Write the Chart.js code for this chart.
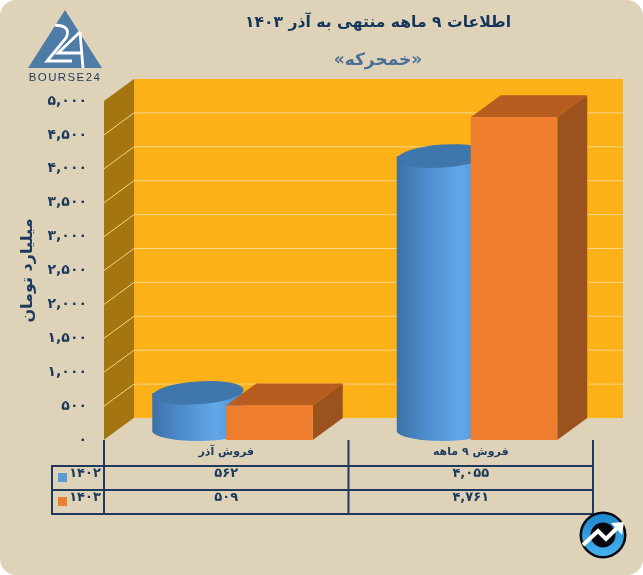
<!DOCTYPE html>
<html lang="fa">
<head>
<meta charset="utf-8">
<title>خمحرکه</title>
<script src="https://cdn.jsdelivr.net/npm/chart.js@4"></script>
<style>
html, body { margin: 0; padding: 0; background: #fff; }
#frame { position: absolute; left: 0; top: 0; width: 643px; height: 575px; background: #ded3b9; border-radius: 16px; overflow: hidden; }
canvas { display: block; }
</style>
</head>
<body>
<div id="frame"><canvas id="chart" width="643" height="575"></canvas></div>
<script>
// داده‌ها
const categories = ['فروش آذر', 'فروش ۹ ماهه'];
const seriesNames = ['۱۴۰۲', '۱۴۰۳'];
const values1402 = [562, 4055];
const values1403 = [509, 4761];
const titleText = 'اطلاعات ۹ ماهه منتهی به آذر ۱۴۰۳';
const subtitleText = '«خمحرکه»';
const axisTitle = 'میلیارد تومان';

const FONT = '"DejaVu Sans", sans-serif';
const NAVY = '#1b3a5e';
const DX = 30, DY = 22; // عمق سه بعدی

function faNum(n) {
    return n.toLocaleString('en-US').replace(/\d/g, d => '۰۱۲۳۴۵۶۷۸۹'[d]);
}

function poly(ctx, pts, color) {
    ctx.beginPath();
    pts.forEach((p, i) => i ? ctx.lineTo(p[0], p[1]) : ctx.moveTo(p[0], p[1]));
    ctx.closePath();
    ctx.fillStyle = color;
    ctx.fill();
}

// دیوارها و خطوط شبکه
function drawWalls(chart) {
    const { ctx, chartArea: a, scales } = chart;
    const y0 = a.bottom, yt = a.top;
    poly(ctx, [[a.left + DX, yt - DY], [a.right + DX, yt - DY], [a.right + DX, y0 - DY], [a.left + DX, y0 - DY]], '#fbb117');
    poly(ctx, [[a.left, yt], [a.left + DX, yt - DY], [a.left + DX, y0 - DY], [a.left, y0]], '#a5750f');
    poly(ctx, [[a.left, y0], [a.left + DX, y0 - DY], [a.right + DX, y0 - DY], [a.right, y0]], '#ded3b9');
    ctx.strokeStyle = '#f6d68a';
    ctx.lineWidth = 1;
    scales.y.ticks.forEach(t => {
        const y = scales.y.getPixelForValue(t.value);
        if (t.value === 0 || t.value === scales.y.max) return;
        ctx.beginPath();
        ctx.moveTo(a.left, y);
        ctx.lineTo(a.left + DX, y - DY);
        ctx.lineTo(a.right + DX, y - DY);
        ctx.stroke();
    });
}

function drawCylinder(ctx, bar) {
    const cx = bar.x + DX / 2;
    const rx = bar.width / 2 + 2.5;
    const topY = bar.y - 9, botY = bar.base - 9;
    const tilt = -0.07;
    const g = ctx.createLinearGradient(cx - rx, 0, cx + rx, 0);
    g.addColorStop(0, '#3d72a8');
    g.addColorStop(0.35, '#4f8fcf');
    g.addColorStop(0.7, '#62a8e8');
    g.addColorStop(1, '#4f8cc8');
    ctx.beginPath();
    ctx.moveTo(cx - rx, topY);
    ctx.lineTo(cx + rx, topY);
    ctx.lineTo(cx + rx, botY);
    ctx.ellipse(cx, botY, rx, 10, 0, 0, Math.PI);
    ctx.closePath();
    ctx.fillStyle = g;
    ctx.fill();
    ctx.beginPath();
    ctx.ellipse(cx, topY, rx, 11.5, tilt, 0, Math.PI * 2);
    ctx.fillStyle = '#3f77ad';
    ctx.fill();
}

function drawBox(ctx, bar) {
    const l = bar.x - bar.width / 2, r = bar.x + bar.width / 2;
    poly(ctx, [[l, bar.y], [l + DX, bar.y - DY], [r + DX, bar.y - DY], [r, bar.y]], '#b75d20');
    poly(ctx, [[r, bar.y], [r + DX, bar.y - DY], [r + DX, bar.base - DY], [r, bar.base]], '#9c521c');
    poly(ctx, [[l, bar.y], [r, bar.y], [r, bar.base], [l, bar.base]], '#ee7d2e');
}

// جدول داده زیر نمودار
function drawTable(chart) {
    const { ctx, chartArea: a, scales } = chart;
    const rows = [466, 490, 514], left = 52;
    const mid = (a.left + a.right) / 2;
    ctx.strokeStyle = '#1f3a5c';
    ctx.lineWidth = 2;
    ctx.beginPath();
    rows.forEach(y => { ctx.moveTo(left - 1, y); ctx.lineTo(a.right + 1, y); });
    [a.left, mid, a.right].forEach(x => { ctx.moveTo(x, a.bottom); ctx.lineTo(x, rows[2]); });
    ctx.moveTo(left, rows[0]); ctx.lineTo(left, rows[2]);
    ctx.stroke();
    const series = [values1402, values1403];
    const swatch = ['#5b9bd5', '#ed7d31'];
    ctx.textAlign = 'center';
    ctx.textBaseline = 'middle';
    series.forEach((vals, r) => {
        const y = rows[r] + 8;
        ctx.font = 'bold 13px ' + FONT;
        ctx.fillStyle = NAVY;
        vals.forEach((v, i) => ctx.fillText(faNum(v), scales.x.getPixelForTick(i), y));
        ctx.fillText(seriesNames[r], 85, y);
        ctx.fillStyle = swatch[r];
        ctx.fillRect(58, rows[r] + 7, 9, 9);
    });
}

function drawTitles(ctx) {
    ctx.textAlign = 'center';
    ctx.textBaseline = 'middle';
    ctx.direction = 'rtl';
    ctx.font = 'bold 15.6px ' + FONT;
    ctx.fillStyle = '#14365a';
    ctx.fillText(titleText, 378, 23);
    ctx.font = 'bold 17px ' + FONT;
    ctx.fillStyle = '#4a6f98';
    ctx.fillText(subtitleText, 378, 61);
    ctx.direction = 'ltr';
}

function drawBourseLogo(ctx) {
    poly(ctx, [[65, 10], [102, 68], [28, 68]], '#4f7ba7');
    ctx.strokeStyle = '#fff';
    ctx.lineWidth = 2.8;
    ctx.beginPath();
    ctx.moveTo(55, 25);
    ctx.quadraticCurveTo(72, 26, 66, 38);
    ctx.lineTo(47, 61);
    ctx.lineTo(72, 61);
    ctx.stroke();
    ctx.beginPath();
    ctx.moveTo(80, 32);
    ctx.lineTo(58, 53);
    ctx.lineTo(83, 53);
    ctx.moveTo(80, 32);
    ctx.lineTo(83, 68);
    ctx.stroke();
    ctx.fillStyle = '#1f3a5c';
    ctx.font = '11.5px "Liberation Sans", sans-serif';
    ctx.textAlign = 'center';
    ctx.textBaseline = 'middle';
    ctx.letterSpacing = '1.4px';
    ctx.fillText('BOURSE24', 65, 78);
    ctx.letterSpacing = '0px';
}

function drawRoundLogo(ctx) {
    const cx = 603, cy = 535;
    ctx.beginPath();
    ctx.arc(cx, cy, 23.5, 0, Math.PI * 2);
    ctx.fillStyle = '#06090f';
    ctx.fill();
    const g = ctx.createLinearGradient(0, cy - 21, 0, cy + 21);
    g.addColorStop(0, '#1f86cc');
    g.addColorStop(1, '#45b2ee');
    ctx.beginPath();
    ctx.arc(cx, cy, 21, 0, Math.PI * 2);
    ctx.fillStyle = g;
    ctx.fill();
    ctx.beginPath();
    ctx.arc(cx, cy, 12.5, 0, Math.PI * 2);
    ctx.fillStyle = '#07090e';
    ctx.fill();
    ctx.strokeStyle = '#fff';
    ctx.lineWidth = 4;
    ctx.beginPath();
    ctx.moveTo(583, 545);
    ctx.lineTo(598, 531);
    ctx.lineTo(606, 539);
    ctx.lineTo(618, 527);
    ctx.stroke();
    poly(ctx, [[611, 523], [624, 522], [622, 535]], '#fff');
}

const threeD = {
    id: 'threeD',
    beforeDraw(chart) {
        const ctx = chart.ctx;
        ctx.save();
        drawWalls(chart);
        drawTitles(ctx);
        drawBourseLogo(ctx);
        ctx.restore();
    },
    beforeDatasetsDraw(chart) {
        const ctx = chart.ctx;
        ctx.save();
        categories.forEach((c, i) => {
            drawCylinder(ctx, chart.getDatasetMeta(0).data[i]);
            drawBox(ctx, chart.getDatasetMeta(1).data[i]);
        });
        ctx.restore();
    },
    beforeDatasetDraw() {
        return false; // میله‌ها بالا به صورت سه بعدی کشیده شدند
    },
    afterDraw(chart) {
        const ctx = chart.ctx;
        ctx.save();
        drawTable(chart);
        drawRoundLogo(ctx);
        ctx.restore();
    }
};

new Chart(document.getElementById('chart'), {
    type: 'bar',
    data: {
        labels: categories,
        datasets: [
            { label: seriesNames[0], data: values1402, backgroundColor: '#5b9bd5', categoryPercentage: 0.7075, barPercentage: 1 },
            { label: seriesNames[1], data: values1403, backgroundColor: '#ed7d31', categoryPercentage: 0.7075, barPercentage: 1 }
        ]
    },
    options: {
        responsive: false,
        animation: false,
        layout: { padding: { left: 0, right: 50, top: 101, bottom: 111 } },
        plugins: { legend: { display: false }, tooltip: { enabled: false } },
        scales: {
            x: {
                grid: { display: false, drawTicks: false },
                border: { display: false },
                ticks: {
                    color: NAVY,
                    padding: 6,
                    font: { family: FONT, size: 11, weight: 'bold' }
                },
                afterFit: s => { s.height = 24; }
            },
            y: {
                min: 0,
                max: 5000,
                grid: { display: false, drawTicks: false },
                border: { display: false },
                ticks: {
                    stepSize: 500,
                    color: NAVY,
                    padding: 17,
                    font: { family: FONT, size: 14, weight: 'bold' },
                    callback: v => faNum(v)
                },
                title: {
                    display: true,
                    text: axisTitle,
                    color: NAVY,
                    padding: { top: 18, bottom: 0 },
                    font: { family: FONT, size: 16, weight: 'bold' }
                },
                afterFit: s => { s.width = 104; }
            }
        }
    },
    plugins: [threeD]
});
</script>
</body>
</html>
